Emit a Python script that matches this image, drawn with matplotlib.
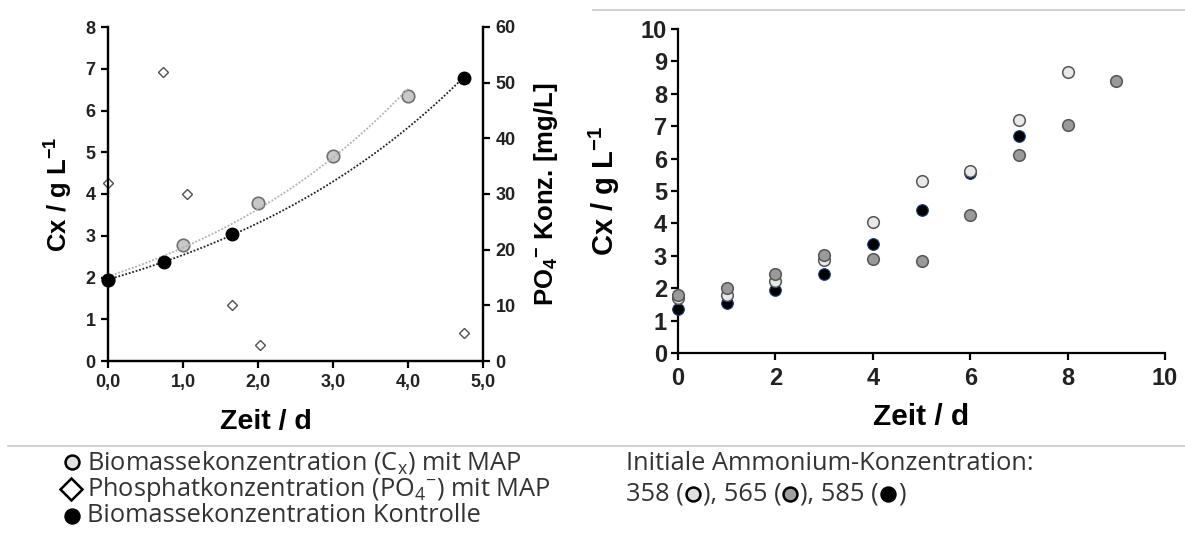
import numpy as np
import matplotlib
matplotlib.use("Agg")
import matplotlib.pyplot as plt
from matplotlib.lines import Line2D

plt.rcParams['font.family'] = ['Liberation Sans', 'DejaVu Sans']
plt.rcParams['mathtext.default'] = 'regular'

# ---------------- data: left chart ----------------
map_days = [0.0, 1.0, 2.0, 3.0, 4.0]
map_cx = [1.95, 2.78, 3.78, 4.90, 6.34]
ctrl_days = [0.0, 0.75, 1.65, 4.75]
ctrl_cx = [1.95, 2.36, 3.05, 6.79]
po4_days = [0.0, 0.73, 1.05, 1.65, 2.02, 4.75]
po4_conc = [32.0, 52.0, 30.0, 10.0, 2.9, 5.0]
left_xticks = [0, 1, 2, 3, 4, 5]
left_xticklabels = ["0,0", "1,0", "2,0", "3,0", "4,0", "5,0"]

# ---------------- data: right chart ----------------
days_right = [0, 1, 2, 3, 4, 5, 6, 7, 8, 9]
cx_358 = [1.70, 1.80, 2.21, 2.88, 4.03, 5.32, 5.63, 7.20, 8.68]
cx_565 = [1.80, 2.02, 2.45, 3.03, 2.90, 2.85, 4.25, 6.12, 7.05, 8.40]
cx_585 = [1.36, 1.54, 1.95, 2.45, 3.36, 4.40, 5.55, 6.71]

W, H = 1185, 535
fig = plt.figure(figsize=(W / 100, H / 100), dpi=100)


def fx(px):
    return px / W


def fy(py):
    return 1 - py / H


# ================= left chart =================
axL = fig.add_axes([fx(108), fy(361), fx(483) - fx(108), fy(27) - fy(361)])
axR = axL.twinx()

# exponential trend lines fitted to data
bm, am = np.polyfit(map_days, np.log(map_cx), 1)
xx = np.linspace(0, 4.0, 100)
axL.plot(xx, np.exp(am) * np.exp(bm * xx), color='#b0b0b0', lw=1.3,
         ls=(0, (1, 1)), zorder=3)
bc, ac = np.polyfit(ctrl_days, np.log(ctrl_cx), 1)
xx2 = np.linspace(0, 4.75, 100)
axL.plot(xx2, np.exp(ac) * np.exp(bc * xx2), color='#202020', lw=1.3,
         ls=(0, (1, 1)), zorder=3)

axL.plot(map_days, map_cx, 'o', ms=9, mfc='#c8c8c8', mec='#707070', mew=1.2,
         ls='none', zorder=2, clip_on=False)
axL.plot(ctrl_days, ctrl_cx, 'o', ms=9, mfc='black', mec='black', ls='none',
         zorder=4, clip_on=False)
axR.plot(po4_days, po4_conc, 'D', ms=5.5, mfc='white', mec='#505050', mew=1.0,
         ls='none', clip_on=False)

axL.set_xlim(0, 5)
axL.set_ylim(0, 8)
axR.set_ylim(0, 60)
axL.set_xticks(left_xticks)
axL.set_xticklabels(left_xticklabels)
axL.set_yticks(range(0, 9))
axR.set_yticks(range(0, 61, 10))
for a in (axL, axR):
    a.spines['top'].set_visible(False)
    for s in a.spines.values():
        s.set_linewidth(1.6)
    a.tick_params(width=1.6, length=5, labelsize=13, pad=4)
    for lab in a.get_xticklabels() + a.get_yticklabels():
        lab.set_fontweight('bold')
        lab.set_color('#222222')
axL.set_xlabel('Zeit / d', fontsize=20.5, fontweight='bold')
axL.xaxis.set_label_coords(0.42, -0.145)
axL.set_ylabel('Cx / g L$^{-1}$', fontsize=18.5, fontweight='bold')
axL.yaxis.set_label_coords(-0.088, 0.5)
axR.set_ylabel('PO$_4$$^{-}$ Konz. [mg/L]', fontsize=18.5, fontweight='bold')
axR.yaxis.set_label_coords(1.13, 0.5)

# ================= right chart =================
ax2 = fig.add_axes([fx(678), fy(353), fx(1165) - fx(678), fy(29) - fy(353)])
ax2.scatter(days_right[:len(cx_585)], cx_585, s=70, c='black',
            edgecolors='#1a3a7a', linewidths=0.8, zorder=3, clip_on=False)
ax2.scatter(days_right[:len(cx_358)], cx_358, s=70, c='#e8e8e8',
            edgecolors='#555555', linewidths=1.1, zorder=4, clip_on=False)
ax2.scatter(days_right[:len(cx_565)], cx_565, s=70, c='#9a9a9a',
            edgecolors='#555555', linewidths=1.1, zorder=5, clip_on=False)
ax2.set_xlim(0, 10)
ax2.set_ylim(0, 10)
ax2.set_xticks(range(0, 11, 2))
ax2.set_yticks(range(0, 11))
ax2.spines['top'].set_visible(False)
ax2.spines['right'].set_visible(False)
for s in ax2.spines.values():
    s.set_linewidth(1.6)
ax2.tick_params(width=1.6, length=5)
ax2.tick_params(axis='y', labelsize=17, pad=3)
ax2.tick_params(axis='x', labelsize=17, pad=5)
for lab in ax2.get_xticklabels() + ax2.get_yticklabels():
    lab.set_fontweight('bold')
    lab.set_color('#222222')
ax2.set_xlabel('Zeit / d', fontsize=21.5, fontweight='bold')
ax2.xaxis.set_label_coords(0.5, -0.154)
ax2.set_ylabel('Cx / g L$^{-1}$', fontsize=21, fontweight='bold')
ax2.yaxis.set_label_coords(-0.115, 0.5)

# ================= separator lines =================
fig.add_artist(Line2D([fx(8), fx(1185)], [fy(445.5), fy(445.5)],
                      color='#c8c8c8', lw=1.2))
fig.add_artist(Line2D([fx(593), fx(1185)], [fy(10), fy(10)],
                      color='#c8c8c8', lw=1.2))

# ================= caption legends =================
cap_font = dict(family=['Open Sans', 'DejaVu Sans'], fontsize=18.3,
                color='#333333', va='center', ha='left')

fig.add_artist(Line2D([fx(72)], [fy(462)], marker='o', ms=10, mfc='#e0e0e0',
                      mec='black', mew=1.8))
fig.text(fx(87), fy(462), 'Biomassekonzentration (C$_x$) mit MAP', **cap_font)
fig.add_artist(Line2D([fx(71)], [fy(489)], marker='D', ms=11, mfc='white',
                      mec='black', mew=1.8))
fig.text(fx(87), fy(489), 'Phosphatkonzentration (PO$_4$$^{-}$) mit MAP', **cap_font)
fig.add_artist(Line2D([fx(72)], [fy(516)], marker='o', ms=10, mfc='black',
                      mec='black', mew=1.8))
fig.text(fx(87), fy(516), 'Biomassekonzentration Kontrolle', **cap_font)

fig.text(fx(626), fy(464), 'Initiale Ammonium-Konzentration:', **cap_font)

# second line with inline markers
renderer = fig.canvas.get_renderer()
pieces = ['358 (', ('#e0e0e0',), '), 565 (', ('#a0a0a0',), '), 585 (', ('black',), ')']
xpos = 626
ypos = 494
for p in pieces:
    if isinstance(p, str):
        t = fig.text(fx(xpos), fy(ypos), p, **cap_font)
        bb = t.get_window_extent(renderer=renderer)
        xpos += bb.width
    else:
        xpos += 9
        fig.add_artist(Line2D([fx(xpos)], [fy(ypos)], marker='o', ms=10,
                              mfc=p[0], mec='black', mew=1.8))
        xpos += 10

fig.savefig('out.png', dpi=100)
